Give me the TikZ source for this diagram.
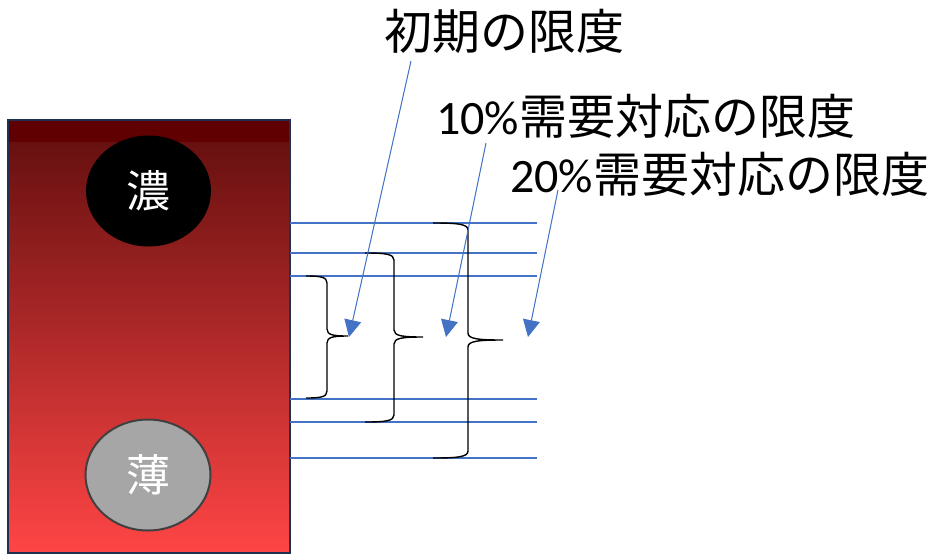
\documentclass[tikz,border=0pt]{standalone}
\usepackage{fontspec}
\setmainfont{Carlito}
\newfontfamily\cjk{Noto Sans CJK JP}
\usetikzlibrary{arrows.meta,shapes.geometric}
\definecolor{lineblue}{HTML}{4472C4}
\definecolor{topdark}{HTML}{600000}
\definecolor{gradtop}{HTML}{681010}
\definecolor{gradmid}{HTML}{BE3030}
\definecolor{gradbot}{HTML}{FF4545}
\definecolor{frame}{HTML}{1F3050}
\definecolor{paleg}{HTML}{A6A6A6}
\definecolor{ringg}{HTML}{404040}
\newcommand\mybrace[6]{%
 \draw[bracestyle] (#1,#4) .. controls ({#1+0.7*(#2-#1)},#4) and (#2,{#4+1}) .. (#2,{#4+7})
 -- (#2,{#5-7}) .. controls (#2,{#5-1}) and ({#2+0.3*(#3-#2)},#5) .. (#3,#5)
 .. controls ({#2+0.3*(#3-#2)},#5) and (#2,{#5+1}) .. (#2,{#5+7})
 -- (#2,{#6-7}) .. controls (#2,{#6-1}) and ({#1+0.7*(#2-#1)},#6) .. (#1,#6);}
\tikzset{
 bracestyle/.style={draw=black,line width=1.4pt},
 level/.style={draw=lineblue,line width=1.1pt},
 pointer/.style={draw=lineblue,line width=1pt,-{Triangle[length=17pt,width=17pt]},fill=lineblue},
 label/.style={anchor=west,inner sep=0pt,font=\fontsize{48}{52}\selectfont},
 blob/.style={ellipse,inner sep=0pt,minimum width=125pt,minimum height=111pt,font=\fontsize{44}{48}\selectfont\cjk,text=white}
}
\begin{document}
\begin{tikzpicture}[x=1pt,y=-1pt]
\useasboundingbox (0,0) rectangle (935,555);
% gradient bar
\fill[topdark] (8,120) rectangle (290,142);
\shade[top color=gradtop,middle color=gradmid,bottom color=gradbot] (8,142) rectangle (290,553);
\draw[frame,line width=2.5pt] (8,120) rectangle (290,553);
\node[blob,fill=black] (koi) at (148.5,191) {濃};
\node[blob,fill=paleg,draw=ringg,line width=2pt] (usu) at (148,475) {薄};
% level lines
\coordinate (l1a) at (290,223); \coordinate (l1b) at (537,223);
\coordinate (l2a) at (290,253); \coordinate (l2b) at (537,253);
\coordinate (l3a) at (290,276); \coordinate (l3b) at (537,276);
\coordinate (l4a) at (290,399); \coordinate (l4b) at (537,399);
\coordinate (l5a) at (290,422); \coordinate (l5b) at (537,422);
\coordinate (l6a) at (290,458); \coordinate (l6b) at (537,458);
\draw[level] (l1a) -- (l1b);
\draw[level] (l2a) -- (l2b);
\draw[level] (l3a) -- (l3b);
\draw[level] (l4a) -- (l4b);
\draw[level] (l5a) -- (l5b);
\draw[level] (l6a) -- (l6b);
% braces
\mybrace{306}{327}{348}{276}{336}{398}
\mybrace{365}{394}{423}{253}{337}{422}
\mybrace{433}{468}{503}{223}{340}{458}
% labels
\node[label] (t1) at (384,31) {\cjk 初期の限度};
\node[label] (t2) at (436,116) {10\%{\cjk 需要対応の限度}};
\node[label] (t3) at (510,174) {20\%{\cjk 需要対応の限度}};
% arrows
\coordinate (s1) at (411,61); \coordinate (a1) at (349,337);
\coordinate (s2) at (486,143); \coordinate (a2) at (446,337);
\coordinate (s3) at (558,190); \coordinate (a3) at (528,337);
\draw[pointer] (s1) -- (a1);
\draw[pointer] (s2) -- (a2);
\draw[pointer] (s3) -- (a3);
\end{tikzpicture}
\end{document}
